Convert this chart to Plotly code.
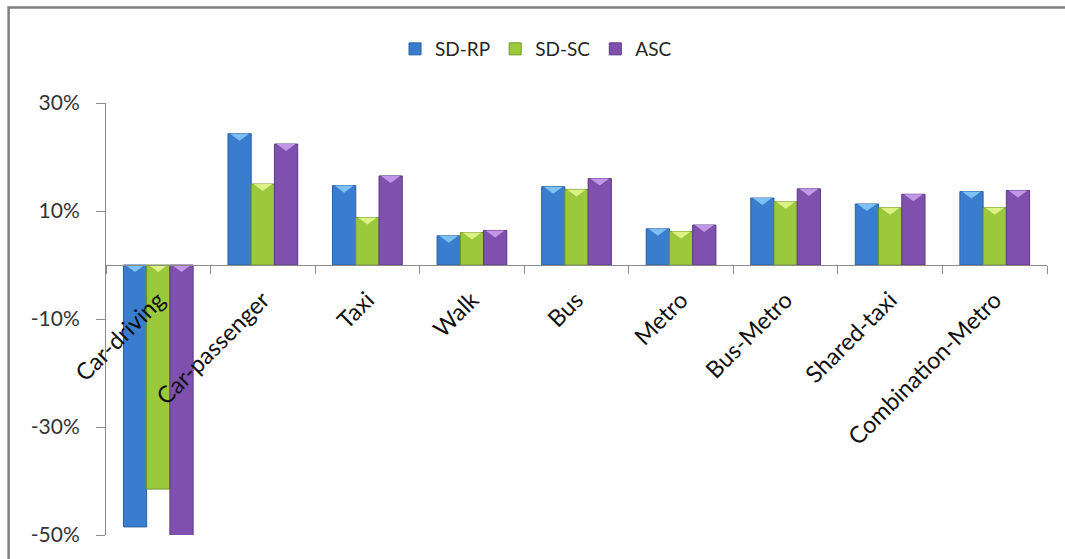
import plotly.graph_objects as go

# Travel modes and the three estimated effects (percent)
modes = ["Car-driving", "Car-passenger", "Taxi", "Walk", "Bus", "Metro",
         "Bus-Metro", "Shared-taxi", "Combination-Metro"]
sd_rp = [-48.5, 24.3, 14.7, 5.4, 14.5, 6.7, 12.4, 11.3, 13.6]
sd_sc = [-41.5, 15.0, 8.8, 6.0, 14.0, 6.2, 11.7, 10.6, 10.6]
asc = [-50.5, 22.4, 16.5, 6.4, 16.0, 7.4, 14.1, 13.1, 13.8]

series = [
    ("SD-RP", sd_rp, "#3a7dcf", "#28609f", "#86c8f6"),
    ("SD-SC", sd_sc, "#9cc83c", "#72962a", "#e2f68c"),
    ("ASC", asc, "#7f50ae", "#5c3884", "#c9a0ee"),
]

y_ticks = [-50, -30, -10, 10, 30]
y_labels = ["-50%", "-30%", "-10%", "10%", "30%"]
BARGAP = 1 / 3
CAP_DEPTH = 1.3  # depth of the bevel on each column top, in axis units
FONT = "Lato, 'Open Sans', Arial, sans-serif"

fig = go.Figure()

n = len(series)
bar_w = (1 - BARGAP) / n
for name, vals, fill, edge, cap in series:
    fig.add_trace(go.Bar(
        name=name, x=modes, y=vals,
        marker=dict(color=fill, line=dict(color=edge, width=1)),
    ))

# bevelled caps on the top face of every column
for k, (name, vals, fill, edge, cap) in enumerate(series):
    offset = (k - (n - 1) / 2) * bar_w
    xs, ys = [], []
    half = bar_w / 2 - 0.02
    for i, v in enumerate(vals):
        top = max(v, 0)
        c = i + offset
        xs += [c - half, c + half, c, c - half, None]
        ys += [top, top, top - CAP_DEPTH, top, None]
    fig.add_trace(go.Scatter(
        x=xs, y=ys, xaxis="x2", mode="lines", fill="toself",
        fillcolor=cap, line=dict(width=0), opacity=0.9,
        showlegend=False, hoverinfo="skip",
    ))

fig.update_layout(
    width=1065, height=559,
    margin=dict(l=106, r=18, t=103, b=24),
    paper_bgcolor="white", plot_bgcolor="white",
    barmode="group", bargap=BARGAP, bargroupgap=0,
    font=dict(family=FONT, color="#262626"),
    legend=dict(orientation="h", x=0.457, xanchor="center",
                y=1.125, yanchor="middle", font=dict(size=19),
                itemwidth=30, tracegroupgap=0),
    xaxis=dict(
        type="category", anchor="free", position=0.625,
        showline=True, linecolor="#8c8c8c", linewidth=1,
        ticks="outside", tickson="boundaries", ticklen=8,
        tickcolor="#8c8c8c", tickangle=-45, ticklabelstandoff=11,
        tickfont=dict(size=23.5, color="#111111"), showgrid=False,
    ),
    xaxis2=dict(overlaying="x", range=[-0.5, len(modes) - 0.5],
                visible=False, anchor="y"),
    yaxis=dict(
        range=[-50, 30], tickvals=y_ticks, ticktext=y_labels,
        showline=True, linecolor="#8c8c8c", linewidth=1,
        ticks="outside", ticklen=9, tickcolor="#8c8c8c",
        ticklabelstandoff=12,
        tickfont=dict(size=21, color="#333333"),
        showgrid=False, zeroline=False,
    ),
    shapes=[dict(type="rect", xref="paper", yref="paper",
                 x0=-0.1035, x1=1.2, y0=-0.3, y1=1.221,
                 line=dict(color="#7f7f7f", width=2.5), layer="below")],
)

fig.write_html("out.html")
